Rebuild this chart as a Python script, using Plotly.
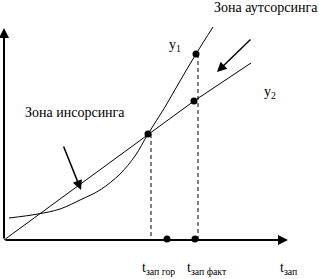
import plotly.graph_objects as go

# Curve y1 (data coords)
y1_x = [5, 34, 56, 76, 96, 116, 131, 144, 161, 176, 192, 209]
y1_y = [22, 26, 31, 40, 50, 66, 84, 106, 133, 159, 186, 213]
# Line y2
y2_x = [0, 144, 190, 247]
y2_y = [0, 106, 139, 177]
# Marked points
dot_x = [144, 192, 190, 163, 191]
dot_y = [106, 186, 139, 1, 1]
# Dashed verticals
dash1_x = [147, 147]
dash1_y = [106, 0]
dash2_x = [194, 194]
dash2_y = [186, 0]
# Axes extents
x_axis_end = 284
y_axis_end = 212
# Pointer arrows (tail -> head)
arrow1 = dict(tx=59, ty=95, hx=77, hy=50)
arrow2 = dict(tx=248, ty=202, hx=213, hy=168)

FONT = "Liberation Serif, Times New Roman, serif"
BLACK = "#000000"

fig = go.Figure()
fig.add_trace(go.Scatter(x=y1_x, y=y1_y, mode="lines", line=dict(color=BLACK, width=1, shape="spline", smoothing=1.0)))
fig.add_trace(go.Scatter(x=y2_x, y=y2_y, mode="lines", line=dict(color=BLACK, width=1)))
fig.add_trace(go.Scatter(x=dash1_x, y=dash1_y, mode="lines", line=dict(color=BLACK, width=1, dash="4px,3px")))
fig.add_trace(go.Scatter(x=dash2_x, y=dash2_y, mode="lines", line=dict(color=BLACK, width=1, dash="4px,3px")))
fig.add_trace(go.Scatter(x=dot_x, y=dot_y, mode="markers", marker=dict(color=BLACK, size=7)))

ann = []
# axes with arrowheads
ann.append(dict(x=0, y=y_axis_end, ax=0, ay=0, xref="x", yref="y", axref="x", ayref="y",
                showarrow=True, arrowhead=2, arrowsize=1, arrowwidth=2, arrowcolor=BLACK, text=""))
ann.append(dict(x=x_axis_end, y=0, ax=0, ay=0, xref="x", yref="y", axref="x", ayref="y",
                showarrow=True, arrowhead=2, arrowsize=1, arrowwidth=2, arrowcolor=BLACK, text=""))
for a in (arrow1, arrow2):
    ann.append(dict(x=a["hx"], y=a["hy"], ax=a["tx"], ay=a["ty"], xref="x", yref="y", axref="x", ayref="y",
                    showarrow=True, arrowhead=2, arrowsize=1.3, arrowwidth=1.5, arrowcolor=BLACK, text=""))

labels = [
    ("Зона аутсорсинга", 208, 233, 14),
    ("y<sub>1</sub>", 163, 195, 14),
    ("y<sub>2</sub>", 258, 148, 14),
    ("Зона инсорсинга", 19, 128, 14),
    ("t<sub>зап гор</sub>", 136, -28, 14),
    ("t<sub>зап факт</sub>", 181, -28, 14),
    ("t<sub>зап</sub>", 274, -28, 14),
]
for t, x, y, s in labels:
    ann.append(dict(text=t, x=x, y=y, xref="x", yref="y", xanchor="left", yanchor="middle",
                    showarrow=False, font=dict(family=FONT, size=s, color=BLACK)))

fig.update_layout(
    width=319, height=279, margin=dict(l=0, r=0, t=0, b=0),
    paper_bgcolor="white", plot_bgcolor="white", showlegend=False,
    xaxis=dict(range=[-4, 315], visible=False, fixedrange=True),
    yaxis=dict(range=[-39, 240], visible=False, fixedrange=True),
    annotations=ann,
)
fig.write_html("out.html", config={"displayModeBar": False})
